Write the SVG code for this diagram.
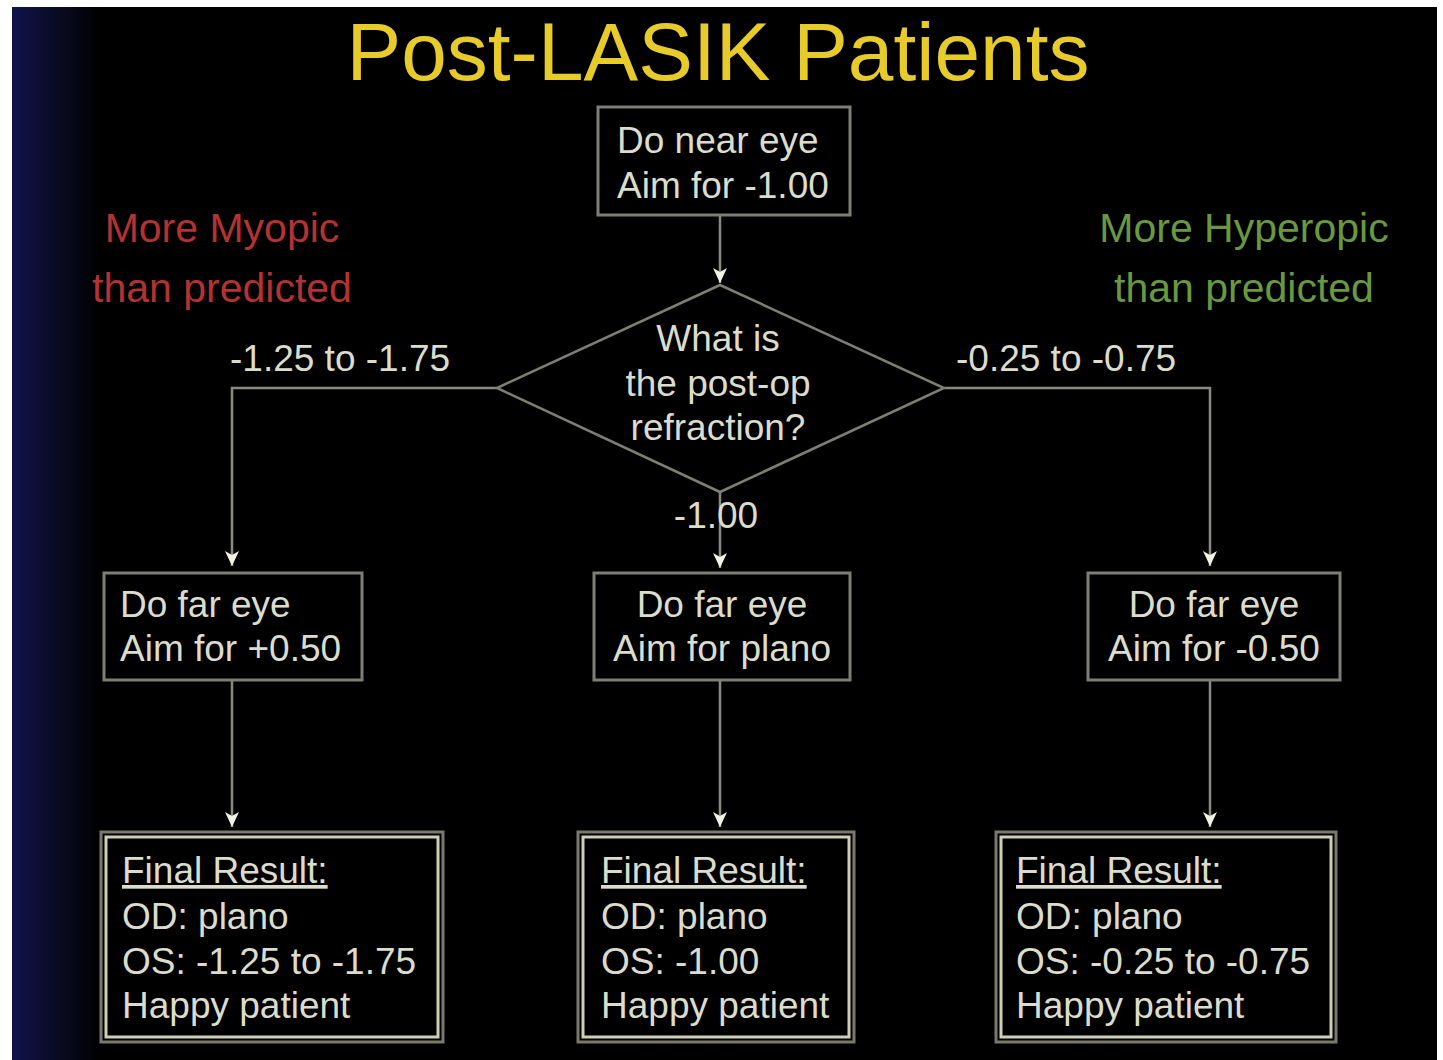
<svg xmlns="http://www.w3.org/2000/svg" width="1443" height="1060" viewBox="0 0 1443 1060">
<style>
  .t { font-family: "Liberation Sans", Arial, sans-serif; font-size: 37px; fill: #dcdccc; }
  .mid { text-anchor: middle; }
  .note { font-family: "Liberation Sans", Arial, sans-serif; font-size: 41px; text-anchor: middle; }
  .box { fill: #000; stroke: #7e7e74; stroke-width: 3; }
  .outer { fill: #000; stroke: #7a7a6c; stroke-width: 3; }
  .inner { fill: none; stroke: #cfcfb4; stroke-width: 3; }
  .conn { fill: none; stroke: #8a8a82; stroke-width: 2.5; }
</style>
<defs>
  <linearGradient id="edge" x1="0" y1="0" x2="1" y2="0">
    <stop offset="0" stop-color="#10134c"/>
    <stop offset="0.5" stop-color="#0a0b22"/>
    <stop offset="1" stop-color="#000000"/>
  </linearGradient>
  <marker id="arr" markerUnits="userSpaceOnUse" markerWidth="18" markerHeight="18" refX="15" refY="8" orient="auto">
    <path d="M0,1 L15,8 L0,15 L4,8 Z" fill="#f2f2e4"/>
  </marker>
</defs>

<rect x="0" y="0" width="1443" height="1060" fill="#ffffff"/>
<rect x="12" y="7" width="1425" height="1053" fill="#000000"/>
<rect x="12" y="7" width="90" height="1053" fill="url(#edge)"/>

<text id="title" x="718" y="80" font-family="'Liberation Sans', Arial, sans-serif" font-size="82" fill="#e6cb2a" text-anchor="middle">Post-LASIK Patients</text>

<g id="connectors">
  <path class="conn" d="M720,215 L720,283" marker-end="url(#arr)"/>
  <path class="conn" d="M497,388 L232,388 L232,566" marker-end="url(#arr)"/>
  <path class="conn" d="M720,492 L720,568" marker-end="url(#arr)"/>
  <path class="conn" d="M944,388 L1210,388 L1210,566" marker-end="url(#arr)"/>
  <path class="conn" d="M232,680 L232,827" marker-end="url(#arr)"/>
  <path class="conn" d="M720,680 L720,827" marker-end="url(#arr)"/>
  <path class="conn" d="M1210,680 L1210,827" marker-end="url(#arr)"/>
  <text class="t" x="230" y="371">-1.25 to -1.75</text>
  <text class="t" x="956" y="371">-0.25 to -0.75</text>
  <text class="t mid" x="716" y="528">-1.00</text>
</g>

<g id="note-myopic">
  <text class="note" x="222" y="242" fill="#b53232">More Myopic</text>
  <text class="note" x="222" y="302" fill="#b53232">than predicted</text>
</g>
<g id="note-hyperopic">
  <text class="note" x="1244" y="242" fill="#6a983f">More Hyperopic</text>
  <text class="note" x="1244" y="302" fill="#6a983f">than predicted</text>
</g>

<g id="near-eye">
  <rect class="box" x="598" y="107" width="252" height="108"/>
  <text class="t" x="617" y="153">Do near eye</text>
  <text class="t" x="617" y="198">Aim for -1.00</text>
</g>

<g id="decision">
  <polygon points="720,285 944,388 720,492 497,388" fill="#000" stroke="#7e7e74" stroke-width="2.5"/>
  <text class="t mid" x="718" y="351">What is</text>
  <text class="t mid" x="718" y="396">the post-op</text>
  <text class="t mid" x="718" y="440">refraction?</text>
</g>

<g id="far-left">
  <rect class="box" x="104" y="573" width="258" height="107"/>
  <text class="t" x="120" y="617">Do far eye</text>
  <text class="t" x="120" y="661">Aim for +0.50</text>
</g>
<g id="far-center">
  <rect class="box" x="594" y="573" width="256" height="107"/>
  <text class="t mid" x="722" y="617">Do far eye</text>
  <text class="t mid" x="722" y="661">Aim for plano</text>
</g>
<g id="far-right">
  <rect class="box" x="1088" y="573" width="252" height="107"/>
  <text class="t mid" x="1214" y="617">Do far eye</text>
  <text class="t mid" x="1214" y="661">Aim for -0.50</text>
</g>

<g id="result-left">
  <rect class="outer" x="101" y="832" width="342" height="210"/>
  <rect class="inner" x="106" y="837" width="332" height="200"/>
  <text class="t" x="122" y="883" text-decoration="underline">Final Result:</text>
  <text class="t" x="122" y="929">OD: plano</text>
  <text class="t" x="122" y="974">OS: -1.25 to -1.75</text>
  <text class="t" x="122" y="1018">Happy patient</text>
</g>
<g id="result-center">
  <rect class="outer" x="578" y="832" width="276" height="210"/>
  <rect class="inner" x="583" y="837" width="266" height="200"/>
  <text class="t" x="601" y="883" text-decoration="underline">Final Result:</text>
  <text class="t" x="601" y="929">OD: plano</text>
  <text class="t" x="601" y="974">OS: -1.00</text>
  <text class="t" x="601" y="1018">Happy patient</text>
</g>
<g id="result-right">
  <rect class="outer" x="996" y="832" width="340" height="210"/>
  <rect class="inner" x="1001" y="837" width="330" height="200"/>
  <text class="t" x="1016" y="883" text-decoration="underline">Final Result:</text>
  <text class="t" x="1016" y="929">OD: plano</text>
  <text class="t" x="1016" y="974">OS: -0.25 to -0.75</text>
  <text class="t" x="1016" y="1018">Happy patient</text>
</g>
</svg>
